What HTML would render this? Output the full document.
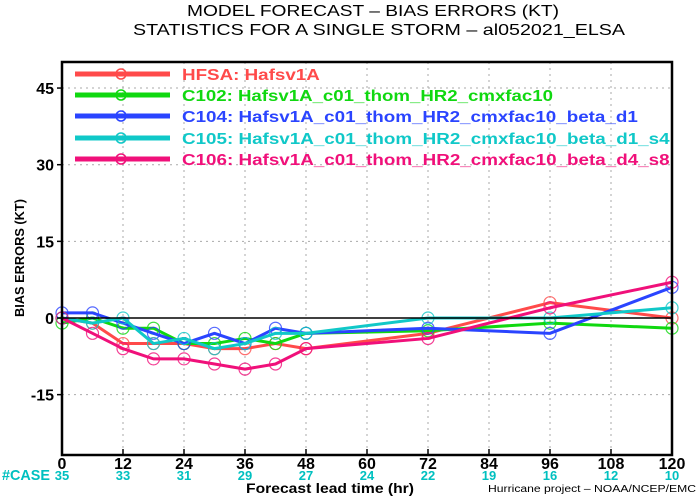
<!DOCTYPE html>
<html><head><meta charset="utf-8"><style>
html,body{margin:0;padding:0;background:#fff;}
svg{display:block;font-family:"Liberation Sans",sans-serif;}
</style></head><body>
<svg id="chart" width="700" height="504" viewBox="0 0 700 504" xmlns="http://www.w3.org/2000/svg">
<text x="373" y="16" text-anchor="middle" font-size="16" textLength="372" lengthAdjust="spacingAndGlyphs">MODEL FORECAST – BIAS ERRORS (KT)</text>
<text x="379" y="35" text-anchor="middle" font-size="16" textLength="492" lengthAdjust="spacingAndGlyphs">STATISTICS FOR A SINGLE STORM – al052021_ELSA</text>
<g id="grid"></g>
<g id="series"></g>
<g id="axes"></g>
<g id="legend"></g>
<text transform="translate(24,258) rotate(-90)" text-anchor="middle" font-size="13" font-weight="bold" textLength="118" lengthAdjust="spacingAndGlyphs">BIAS ERRORS (KT)</text>
<text x="2" y="480" font-size="15" font-weight="bold" fill="#00c0c0" textLength="48" lengthAdjust="spacingAndGlyphs">#CASE</text>
<text x="330" y="493" text-anchor="middle" font-size="14" font-weight="bold" textLength="168" lengthAdjust="spacingAndGlyphs">Forecast lead time (hr)</text>
<text x="696" y="492" text-anchor="end" font-size="10" textLength="208" lengthAdjust="spacingAndGlyphs">Hurricane project – NOAA/NCEP/EMC</text>
</svg>
<script>
const hours = [0,6,12,18,24,30,36,42,48,72,96,120];
const hfsa = [0,-1,-5,-5,-5,-6,-6,-5,-6,-3,3,0];
const c102 = [-1,0,-2,-2,-5,-5,-4,-5,-3,-2.5,-1,-2];
const c104 = [1,1,-1,-3,-5,-3,-5,-2,-3,-2,-3,6];
const c105 = [0,-1,0,-5,-4,-6,-5,-3,-3,0,0,2];
const c106 = [0,-3,-6,-8,-8,-9,-10,-9,-6,-4,2,7];
const xTicks = [0,12,24,36,48,60,72,84,96,108,120];
const caseCounts = [35,33,31,29,27,24,22,19,16,12,10];
const yTicks = [45,30,15,0,-15];
const seriesNames = ["HFSA: Hafsv1A","C102: Hafsv1A_c01_thom_HR2_cmxfac10","C104: Hafsv1A_c01_thom_HR2_cmxfac10_beta_d1","C105: Hafsv1A_c01_thom_HR2_cmxfac10_beta_d1_s4","C106: Hafsv1A_c01_thom_HR2_cmxfac10_beta_d4_s8"];

const NS="http://www.w3.org/2000/svg";
const L=62,R=672,T=62,B=455;
function xs(h){return L+(h/120)*(R-L);}
function ys(v){return 318-v*5.11;}
function mk(tag,attrs,parent){const e=document.createElementNS(NS,tag);for(const k in attrs)e.setAttribute(k,attrs[k]);parent.appendChild(e);return e;}
const grid=document.getElementById('grid'),axes=document.getElementById('axes'),sg=document.getElementById('series'),lg=document.getElementById('legend');
xTicks.forEach((h,i)=>{
  if(h>0&&h<120){const g=mk('line',{x1:xs(h),x2:xs(h),y1:T,y2:B,stroke:'#aaa','stroke-width':1,'stroke-dasharray':'2,4'},grid);
  
  }
  const t=mk('line',{x1:xs(h),x2:xs(h),y1:B,y2:B-6,stroke:'#000','stroke-width':1.5},axes);
  
  
  const lb=mk('text',{x:xs(h),y:469,'text-anchor':'middle','font-size':16,'font-weight':'bold'},axes);
  lb.textContent=h;
  
  
  const c=mk('text',{x:xs(h),y:480,'text-anchor':'middle','font-size':13,'font-weight':'bold',fill:'#00c0c0'},axes);
  c.textContent=caseCounts[i];
  
  
});
yTicks.forEach(v=>{
  if(v!==0){const g=mk('line',{x1:L,x2:R,y1:ys(v),y2:ys(v),stroke:'#aaa','stroke-width':1,'stroke-dasharray':'2,4'},grid);
  
  }
  const t=mk('line',{x1:L-5,x2:L,y1:ys(v),y2:ys(v),stroke:'#000','stroke-width':1.5},axes);
  
  
  const lb=mk('text',{x:L-8,y:ys(v)+6,'text-anchor':'end','font-size':16,'font-weight':'bold'},axes);
  lb.textContent=v;
  
  
});
const zl=mk('line',{x1:L,x2:R,y1:ys(0),y2:ys(0),stroke:'#000','stroke-width':1.5},axes);


const fr=mk('rect',{x:L,y:T,width:R-L,height:B-T,fill:'none',stroke:'#000','stroke-width':2.5},axes);


const data=[hfsa,c102,c104,c105,c106];
const colors=['#ff4a4a','#10d810','#2a44ff','#10c8c8','#f0107a'];
const keys=['hfsa','c102','c104','c105','c106'];
data.forEach((arr,si)=>{
  const pts=arr.map((v,i)=>xs(hours[i])+','+ys(v)).join(' ');
  const pl=mk('polyline',{points:pts,fill:'none',stroke:colors[si],'stroke-width':3,'stroke-linejoin':'round'},sg);
  
  
  arr.forEach((v,i)=>{
    const c=mk('circle',{cx:xs(hours[i]),cy:ys(v),r:6,fill:'none',stroke:colors[si],'stroke-width':1.2,opacity:0.8},sg);
    
    
  });
});
const rowsY=[74,95,116,138,159];
seriesNames.forEach((n,i)=>{
  const ln=mk('line',{x1:75,x2:170,y1:rowsY[i],y2:rowsY[i],stroke:colors[i],'stroke-width':5},lg);
  
  
  const c=mk('circle',{cx:121,cy:rowsY[i],r:5,fill:'none',stroke:colors[i],'stroke-width':1.5},lg);
  
  
  const t=mk('text',{x:182,y:rowsY[i]+6,'font-size':16,'font-weight':'bold',fill:colors[i],textLength:n.length*10.6,lengthAdjust:'spacingAndGlyphs'},lg);
  t.textContent=n;
  
  
});
</script>
</body></html>
